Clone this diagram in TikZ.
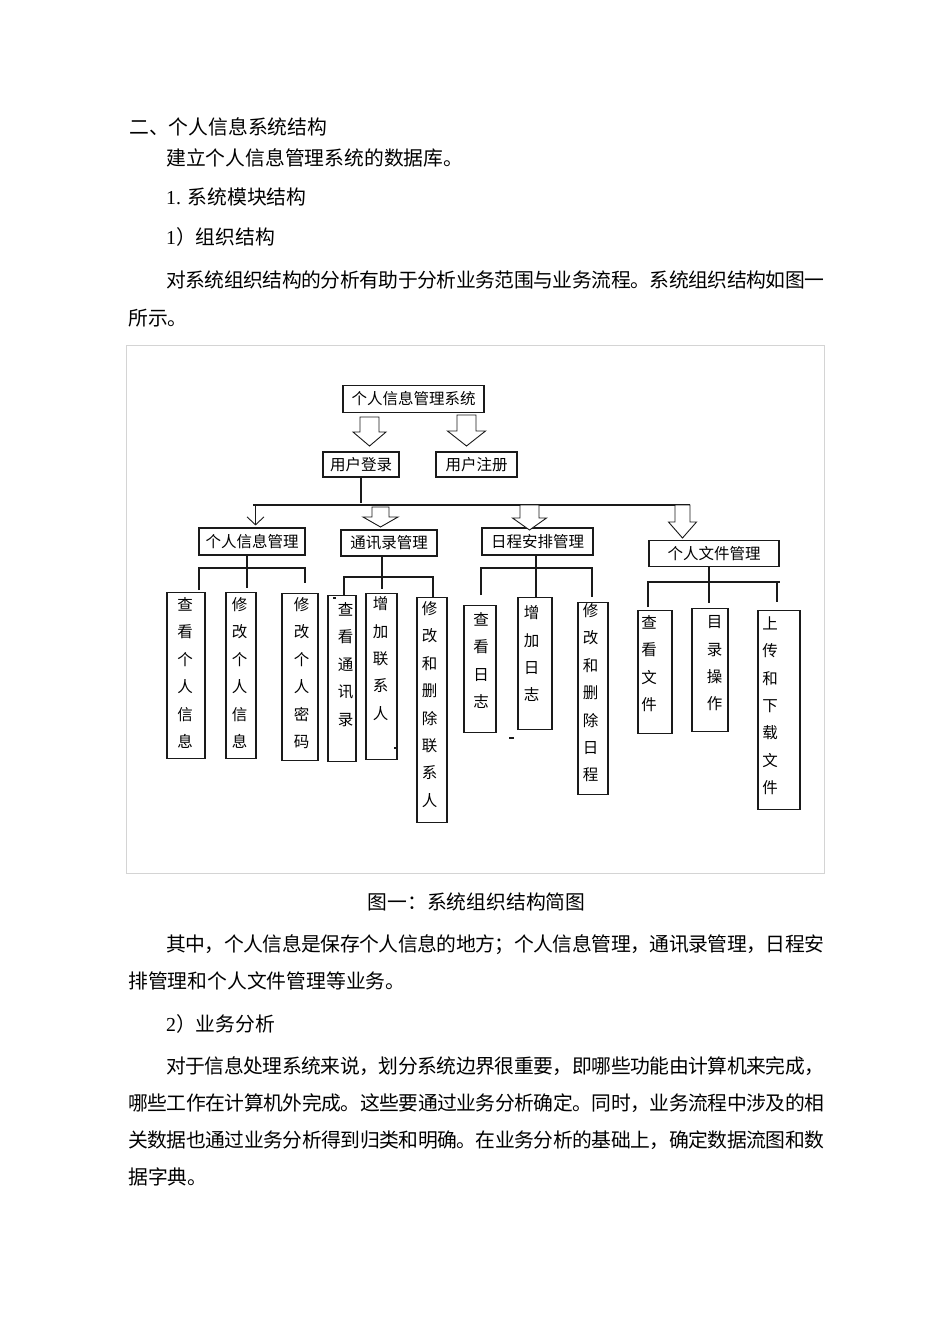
\documentclass[tikz,border=0pt]{standalone}
\usepackage{fontspec}
\setmainfont{Liberation Serif}
\newfontfamily\cjk{Noto Sans CJK SC}
\usetikzlibrary{arrows.meta,calc}
\definecolor{framegray}{HTML}{D4D4D4}
\definecolor{ink}{HTML}{1A1A1A}

% hollow block arrow: start, half shaft, shaft length, half head, head length
\newcommand\bigarrow[5]{\draw[hollow] (#1) ++(-#2,0) -- ++(0,#3) -- ++(#2-#4,0) -- ++(#4,#5) -- ++(#4,-#5) -- ++(#2-#4,0) -- ++(0,-#3) -- cycle;}
% vertical column of characters: height, first glyph centre, x shift, text
\newcommand\vcol[4]{\hspace*{#3pt}\parbox[t][#1pt][t]{16pt}{\centering\vspace*{\dimexpr#2pt-7pt\relax}#4}\hspace*{-#3pt}}
% one justified line of characters
\makeatletter
\newcommand\jl@stop{}
\newcommand\jline[2]{\hbox to #1pt{\jl@first#2\jl@stop}}
\def\jl@first#1{#1\jl@next}
\def\jl@next#1{\ifx\jl@stop#1\else\hskip 0pt plus 1fil minus 1fil #1\expandafter\jl@next\fi}
\makeatother

\tikzset{
  box/.style={draw=ink, line width=1.1pt, inner sep=0pt, font=\cjk\fontsize{15.5}{27.4}\selectfont},
  leaf/.style={box, anchor=north},
  link/.style={draw=ink, line width=1.1pt},
  hollow/.style={draw=ink, line width=0.9pt, fill=white},
  thinarrow/.style={link, -{Straight Barb[length=8pt,width=17pt,line width=0.9pt]}},
  body/.style={anchor=base west, inner sep=0pt, font=\cjk\fontsize{19.8}{24}\selectfont},
}

\begin{document}
\begin{tikzpicture}[x=1pt, y=-1pt]
\useasboundingbox[fill=white] (0,0) rectangle (950,1344);

% text above the figure
\node[body] (h1) at (129,134) {二、个人信息系统结构};
\node[body] (p1) at (166,165.5) {建立个人信息管理系统的数据库。};
\node[body] (p2) at (166,204) {{\rmfamily 1. }系统模块结构};
\node[body] (p3) at (166,244) {{\rmfamily 1}）组织结构};
\node[body] (p4) at (166,287.5) {\jline{658}{对系统组织结构的分析有助于分析业务范围与业务流程。系统组织结构如图一}};
\node[body] (p5) at (128,325.5) {所示。};

% figure frame
\draw[framegray, line width=1pt] (126,345.5) rectangle (824,873);

% upper levels
\node[box, minimum width=141, minimum height=27] (sys) at (413.5,399) {个人信息管理系统};
\node[box, minimum width=76, minimum height=25] (login) at (361,464.5) {用户登录};
\node[box, minimum width=81, minimum height=25] (reg) at (476.5,464.5) {用户注册};

\node[box, minimum width=106, minimum height=27] (pim) at (252,541.5) {个人信息管理};
\node[box, minimum width=96, minimum height=26] (adr) at (389,543) {通讯录管理};
\node[box, minimum width=111, minimum height=27] (sch) at (537.5,541.5) {日程安排管理};
\node[box, minimum width=130, minimum height=26] (fil) at (714,553.5) {个人文件管理};

\coordinate (a1) at (369.5,417);
\coordinate (a2) at (466.5,415);
\coordinate (a3) at (380.5,507);
\coordinate (a4) at (529.5,505);
\coordinate (a5) at (682.5,505);
\bigarrow{a1}{9.5}{15}{16.5}{14}
\bigarrow{a2}{9.5}{16}{19}{15}

\coordinate (bl) at (253,505);
\coordinate (br) at (690,505);
\draw[link] (login.south) -- ++(0,25);
\draw[link] (bl) -- (br);
\draw[thinarrow] (bl) ++(2.5,0) -- ([xshift=3.5pt,yshift=2pt]pim.north);
\bigarrow{a3}{8.5}{10}{17.5}{10}
\bigarrow{a4}{9.5}{13}{17}{12}
\bigarrow{a5}{7.5}{17}{14}{16}

% leaves
\node[leaf, minimum width=38] (v1) at (186,592) {\vcol{166}{12}{-1}{查\\看\\个\\人\\信\\息}};
\node[leaf, minimum width=30] (v2) at (241,592) {\vcol{166}{12}{-1.5}{修\\改\\个\\人\\信\\息}};
\node[leaf, minimum width=36] (v3) at (300,593) {\vcol{167}{11}{1.5}{修\\改\\个\\人\\密\\码}};

\node[leaf, minimum width=28] (c1) at (342,595) {\vcol{166}{14}{3.5}{查\\看\\通\\讯\\录}};
\node[leaf, minimum width=31] (c2) at (381.5,593) {\vcol{166}{10}{-1}{增\\加\\联\\系\\人}};
\node[leaf, minimum width=30] (c3) at (432,597) {\vcol{225}{11}{-2.5}{修\\改\\和\\删\\除\\联\\系\\人}};

\node[leaf, minimum width=32] (s1) at (480,605) {\vcol{127}{14}{1}{查\\看\\日\\志}};
\node[leaf, minimum width=34] (s2) at (535,597) {\vcol{132}{15}{-3.5}{增\\加\\日\\志}};
\node[leaf, minimum width=30] (s3) at (593,602) {\vcol{192}{8}{-2.5}{修\\改\\和\\删\\除\\日\\程}};

\node[leaf, minimum width=34] (f1) at (655,610) {\vcol{123}{12}{-6}{查\\看\\文\\件}};
\node[leaf, minimum width=36] (f2) at (710,608) {\vcol{123}{14}{4.5}{目\\录\\操\\作}};
\node[leaf, minimum width=42] (f3) at (779,610) {\vcol{199}{13}{-9}{上\\传\\和\\下\\载\\文\\件}};

% brackets
\draw[link] ([xshift=-5pt]pim.south) -- ++(0,32);
\draw[link] ($(v1.north)+(13,-2)$) |- ($(v3.north)+(5,-25)$) -- ++(0,15);
\draw[link] ([xshift=-7pt]adr.south) -- ++(0,32);
\draw[link] ($(c1.north)+(2,0)$) |- ($(c3.north)+(1,-20)$) -- ++(0,20);
\draw[link] ([xshift=-1.5pt]sch.south) -- ++(0,42);
\draw[link] ($(s1.north)+(1,-10)$) |- ($(s3.north)+(-1,-34)$) -- ++(0,29);
\draw[link] ([xshift=-5pt]fil.south) -- ++(0,36);
\draw[link] ($(f1.north)+(-7,-3)$) |- ($(f3.north)+(1,-28)$);
\draw[link] ($(f3.north)+(-2,-28)$) -- ++(0,20);

% stray marks
\draw[ink, line width=1.3pt] (333,598) -- (336,598);
\draw[ink, line width=1.3pt] (394,748) -- (398,748);
\draw[ink, line width=1.5pt] (509,738) -- (514,738);

% text below the figure
\node[body, anchor=base] (cap) at (476.5,909) {图一：系统组织结构简图};
\node[body] (p6) at (166,951) {\jline{658}{其中，个人信息是保存个人信息的地方；个人信息管理，通讯录管理，日程安}};
\node[body] (p7) at (128,988) {排管理和个人文件管理等业务。};
\node[body] (p8) at (166,1031) {{\rmfamily 2}）业务分析};
\node[body] (p9) at (166,1073.5) {\jline{658}{对于信息处理系统来说，划分系统边界很重要，即哪些功能由计算机来完成，}};
\node[body] (p10) at (128,1110.5) {\jline{696}{哪些工作在计算机外完成。这些要通过业务分析确定。同时，业务流程中涉及的相}};
\node[body] (p11) at (128,1147.5) {\jline{696}{关数据也通过业务分析得到归类和明确。在业务分析的基础上，确定数据流图和数}};
\node[body] (p12) at (128,1184.5) {据字典。};
\end{tikzpicture}
\end{document}
